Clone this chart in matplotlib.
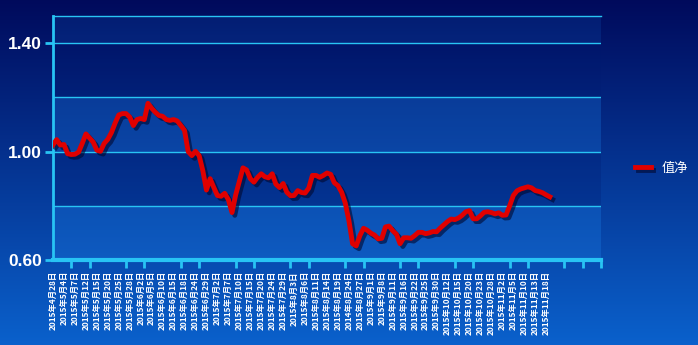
import numpy as np
import matplotlib
matplotlib.use('Agg')
import matplotlib.pyplot as plt
import matplotlib.patheffects as pe
from matplotlib.ticker import MultipleLocator, FixedLocator

# 淨值數據 (每個交易日一個點)
nav = [1.025, 1.044, 1.024, 1.026, 0.992, 0.989, 0.990, 0.998, 1.030, 1.065,
       1.050, 1.035, 1.005, 1.001, 1.030, 1.045, 1.070, 1.105, 1.135, 1.140,
       1.140, 1.127, 1.096, 1.118, 1.122, 1.118, 1.178, 1.160, 1.145, 1.133,
       1.130, 1.118, 1.115, 1.118, 1.113, 1.096, 1.078, 1.000, 0.985, 1.001,
       0.985, 0.930, 0.858, 0.900, 0.868, 0.838, 0.835, 0.846, 0.823, 0.775,
       0.840, 0.890, 0.940, 0.932, 0.900, 0.887, 0.905, 0.918, 0.907, 0.903,
       0.918, 0.880, 0.867, 0.882, 0.850, 0.837, 0.838, 0.856, 0.849, 0.847,
       0.865, 0.912, 0.912, 0.905, 0.912, 0.921, 0.916, 0.885, 0.874, 0.850,
       0.810, 0.745, 0.660, 0.652, 0.690, 0.717, 0.710, 0.699, 0.692, 0.678,
       0.680, 0.722, 0.725, 0.708, 0.695, 0.660, 0.682, 0.682, 0.680, 0.690,
       0.702, 0.702, 0.697, 0.700, 0.705, 0.704, 0.718, 0.730, 0.742, 0.751,
       0.749, 0.755, 0.765, 0.778, 0.782, 0.752, 0.752, 0.763, 0.776, 0.778,
       0.775, 0.770, 0.774, 0.765, 0.766, 0.800, 0.838, 0.855, 0.862, 0.866,
       0.870, 0.866, 0.856, 0.853, 0.848, 0.840, 0.833]

# 日期標籤 (每三個交易日一個)
date_labels = ['2015年4月28日', '2015年5月4日', '2015年5月7日', '2015年5月12日',
               '2015年5月15日', '2015年5月20日', '2015年5月25日', '2015年5月28日',
               '2015年6月2日', '2015年6月5日', '2015年6月10日', '2015年6月15日',
               '2015年6月18日', '2015年6月24日', '2015年6月29日', '2015年7月2日',
               '2015年7月7日', '2015年7月10日', '2015年7月15日', '2015年7月20日',
               '2015年7月24日', '2015年7月29日', '2015年8月3日', '2015年8月6日',
               '2015年8月11日', '2015年8月14日', '2015年8月19日', '2014年8月24日',
               '2015年8月27日', '2015年9月1日', '2015年9月8日', '2015年9月11日',
               '2015年9月16日', '2015年9月22日', '2015年9月25日', '2015年9月30日',
               '2015年10月12日', '2015年10月15日', '2015年10月20日', '2015年10月23日',
               '2015年10月28日', '2015年11月2日', '2015年11月5日', '2015年11月10日',
               '2015年11月13日', '2015年11月18日']
label_step = 3

series_name = '值净'
y_labels = [0.60, 1.00, 1.40]

cjk = ['Noto Sans CJK SC', 'DejaVu Sans']
cyan = '#28c4f4'

fig = plt.figure(figsize=(6.98, 3.45), dpi=100)

# 背景漸層
bg = fig.add_axes([0, 0, 1, 1])
grad = np.linspace(0, 1, 256).reshape(-1, 1)
top = np.array([0.00, 0.04, 0.36])
bottom = np.array([0.04, 0.38, 0.80])
img = top + (bottom - top) * grad[..., None]
img = img.reshape(256, 1, 3)
bg.imshow(img, aspect='auto', extent=[0, 1, 0, 1], origin='upper')
bg.set_axis_off()
bg.set_zorder(-10)

ax = fig.add_axes([53 / 698, 1 - 260 / 345, 548 / 698, 244 / 345])
ax.patch.set_alpha(0)
ax.set_xlim(0, 150)
ax.set_ylim(0.6, 1.5)

# 交替色帶
bands = [(0.6, 0.8, '#1a78e0', 0.35), (0.8, 1.0, '#001a70', 0.25), (1.0, 1.2, '#1a78e0', 0.3),
         (1.2, 1.4, '#001a70', 0.2), (1.4, 1.5, '#1a78e0', 0.15)]
for lo, hi, c, a in bands:
    ax.axhspan(lo, hi, color=c, alpha=a, lw=0, zorder=0)
for yv in [0.8, 1.0, 1.2, 1.4]:
    ax.axhline(yv, color=cyan, lw=1, zorder=1)

x = np.arange(len(nav))
ax.plot(x, nav, color='#e00000', lw=3.5, solid_joinstyle='round', label=series_name,
        zorder=3, path_effects=[pe.SimpleLineShadow(offset=(2, -2), shadow_color='#000830', alpha=0.6),
                                pe.Normal()])

# 坐標軸
ax.spines['right'].set_visible(False)
ax.spines['top'].set_color(cyan)
ax.spines['top'].set_linewidth(1)
ax.spines['left'].set_color(cyan)
ax.spines['left'].set_linewidth(2)
ax.spines['bottom'].set_color(cyan)
ax.spines['bottom'].set_linewidth(3)

ax.yaxis.set_major_locator(FixedLocator(y_labels))
ax.set_yticklabels([f'{v:.2f}' for v in y_labels], fontsize=12.5, fontweight='bold',
                   color='white', family='Liberation Sans')
ax.tick_params(axis='y', length=6, width=2, color=cyan, pad=2)

tick_pos = [i * label_step for i in range(len(date_labels))]
ax.xaxis.set_major_locator(FixedLocator(tick_pos))
ax.set_xticklabels(date_labels, rotation=90, fontsize=6, fontweight='bold',
                   color='white', family=cjk)
ax.tick_params(axis='x', which='major', length=0, pad=8)
ax.xaxis.set_minor_locator(MultipleLocator(5))
ax.tick_params(axis='x', which='minor', length=6, width=2, color=cyan)

leg = ax.legend(loc='center left', bbox_to_anchor=(1.04, 0.377), frameon=False,
                handlelength=1.2, prop={'family': cjk, 'size': 9.5})
for t in leg.get_texts():
    t.set_color('white')

fig.savefig('out.png', dpi=100)
